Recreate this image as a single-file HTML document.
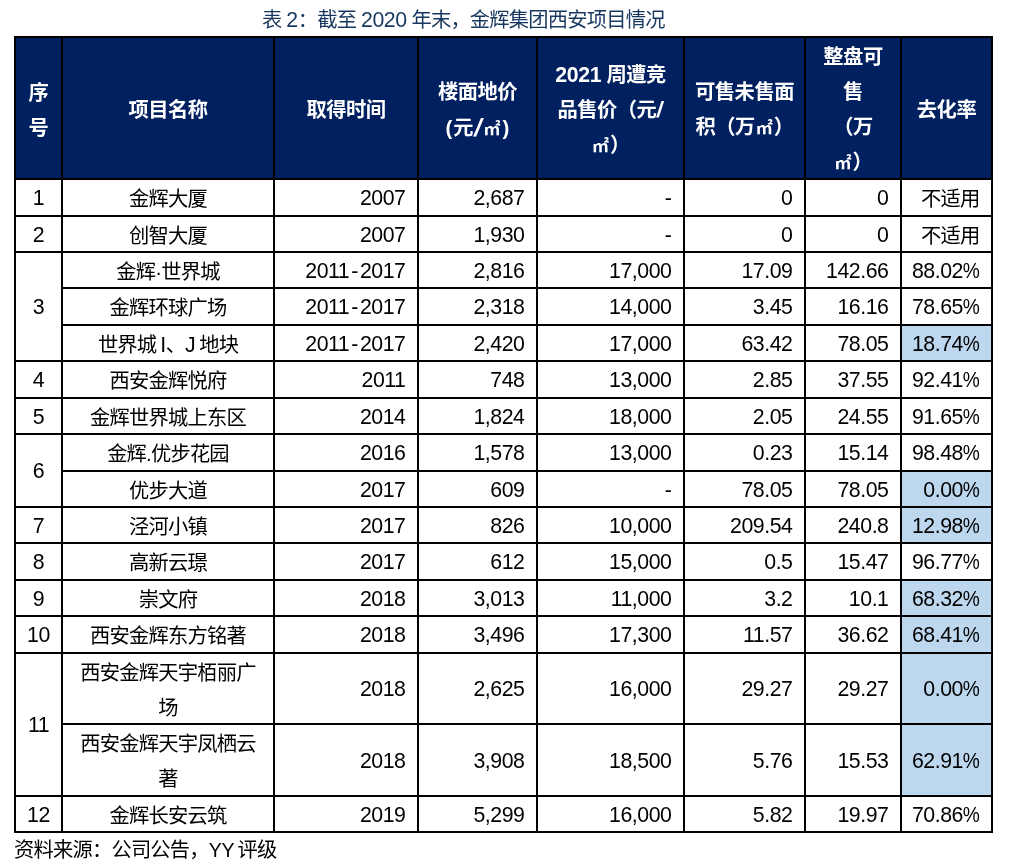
<!DOCTYPE html>
<html lang="zh-CN"><head><meta charset="utf-8"><title>表 2</title>
<style>
html,body{margin:0;padding:0;background:#fff;}
body{width:1012px;height:868px;position:relative;overflow:hidden;
 font-family:"Liberation Sans","Noto Sans CJK SC",sans-serif;font-size:20.3px;color:#000;letter-spacing:-0.8px;}
.c{position:absolute;display:flex;align-items:center;box-sizing:border-box;line-height:35px;white-space:nowrap;}
.ctr{justify-content:center;text-align:center;}
.r{justify-content:flex-end;text-align:right;padding-right:11.5px;}
.h{color:#fff;font-weight:bold;background:#002060;letter-spacing:-0.5px;}
.h .n{letter-spacing:-0.3px;}
.sl{display:inline-block;font-size:25px;line-height:20px;transform:skewX(-13deg);margin:0 1px 0 1.5px;letter-spacing:0;position:relative;top:1.5px;}
.sl2{display:inline-block;font-size:22px;line-height:20px;transform:skewX(-8deg);margin:0 0 0 1px;letter-spacing:0;position:relative;top:0.5px;}
.m2{font-weight:700;font-size:17px;letter-spacing:0;margin:0 1px;}
.p{font-size:20.5px;letter-spacing:0;margin:0 1px;}
.hl{background:#bdd7ee;}
.ln{position:absolute;background:#000;}
.t{position:relative;top:2px;}
.n .t{top:1px;}
.hy{margin:0 2px;}
.pc{display:inline-block;transform:scaleX(0.9);transform-origin:100% 50%;margin-left:-2px;}
.h .t{top:2.5px;}
.n{font-size:21.3px;letter-spacing:-0.45px;}
#title{position:absolute;left:262px;top:3px;line-height:35px;color:#17375e;white-space:nowrap;}
#src{position:absolute;left:14px;top:833px;line-height:35px;white-space:nowrap;}
</style></head><body>
<div id="title">表 <span class=n>2</span>：截至 <span class=n>2020</span> 年末，金辉集团西安项目情况</div>

<div class="c ctr h" style="left:16px;top:38px;width:45px;height:140px"><span class="t">序<br>号</span></div>
<div class="c ctr h" style="left:63px;top:38px;width:210px;height:140px"><span class="t">项目名称</span></div>
<div class="c ctr h" style="left:275px;top:38px;width:142px;height:140px"><span class="t">取得时间</span></div>
<div class="c ctr h" style="left:419px;top:38px;width:117px;height:140px"><span class="t">楼面地价<br><span class="p">(</span>元<span class="sl">/</span><span class="m2">㎡</span><span class="p">)</span></span></div>
<div class="c ctr h" style="left:538px;top:38px;width:145px;height:140px"><span class="t"><span class="n">2021</span> 周遭竞<br>品售价（元<span class="sl2">/</span><br><span class="m2">㎡</span>）</span></div>
<div class="c ctr h" style="left:685px;top:38px;width:119px;height:140px"><span class="t">可售未售面<br>积（万<span class="m2">㎡</span>）</span></div>
<div class="c ctr h" style="left:806px;top:38px;width:94px;height:140px"><span class="t">整盘可<br>售<br>（万<br><span class="m2">㎡</span>）</span></div>
<div class="c ctr h" style="left:902px;top:38px;width:89px;height:140px"><span class="t">去化率</span></div>
<div class="c ctr n" style="left:16px;top:180px;width:45px;height:35px"><span class="t">1</span></div>
<div class="c ctr" style="left:63px;top:180px;width:210px;height:35px"><span class="t">金辉大厦</span></div>
<div class="c r n" style="left:275px;top:180px;width:142px;height:35px"><span class="t">2007</span></div>
<div class="c r n" style="left:419px;top:180px;width:117px;height:35px"><span class="t">2,687</span></div>
<div class="c r n" style="left:538px;top:180px;width:145px;height:35px"><span class="t">-</span></div>
<div class="c r n" style="left:685px;top:180px;width:119px;height:35px"><span class="t">0</span></div>
<div class="c r n" style="left:806px;top:180px;width:94px;height:35px"><span class="t">0</span></div>
<div class="c r" style="left:902px;top:180px;width:89px;height:35px"><span class="t">不适用</span></div>
<div class="c ctr n" style="left:16px;top:217px;width:45px;height:34px"><span class="t">2</span></div>
<div class="c ctr" style="left:63px;top:217px;width:210px;height:34px"><span class="t">创智大厦</span></div>
<div class="c r n" style="left:275px;top:217px;width:142px;height:34px"><span class="t">2007</span></div>
<div class="c r n" style="left:419px;top:217px;width:117px;height:34px"><span class="t">1,930</span></div>
<div class="c r n" style="left:538px;top:217px;width:145px;height:34px"><span class="t">-</span></div>
<div class="c r n" style="left:685px;top:217px;width:119px;height:34px"><span class="t">0</span></div>
<div class="c r n" style="left:806px;top:217px;width:94px;height:34px"><span class="t">0</span></div>
<div class="c r" style="left:902px;top:217px;width:89px;height:34px"><span class="t">不适用</span></div>
<div class="c ctr n" style="left:16px;top:253px;width:45px;height:107px"><span class="t">3</span></div>
<div class="c ctr" style="left:63px;top:253px;width:210px;height:34px"><span class="t">金辉·世界城</span></div>
<div class="c r n" style="left:275px;top:253px;width:142px;height:34px"><span class="t">2011<span class=hy>-</span>2017</span></div>
<div class="c r n" style="left:419px;top:253px;width:117px;height:34px"><span class="t">2,816</span></div>
<div class="c r n" style="left:538px;top:253px;width:145px;height:34px"><span class="t">17,000</span></div>
<div class="c r n" style="left:685px;top:253px;width:119px;height:34px"><span class="t">17.09</span></div>
<div class="c r n" style="left:806px;top:253px;width:94px;height:34px"><span class="t">142.66</span></div>
<div class="c r n" style="left:902px;top:253px;width:89px;height:34px"><span class="t">88.02<span class="pc">%</span></span></div>
<div class="c ctr" style="left:63px;top:289px;width:210px;height:35px"><span class="t">金辉环球广场</span></div>
<div class="c r n" style="left:275px;top:289px;width:142px;height:35px"><span class="t">2011<span class=hy>-</span>2017</span></div>
<div class="c r n" style="left:419px;top:289px;width:117px;height:35px"><span class="t">2,318</span></div>
<div class="c r n" style="left:538px;top:289px;width:145px;height:35px"><span class="t">14,000</span></div>
<div class="c r n" style="left:685px;top:289px;width:119px;height:35px"><span class="t">3.45</span></div>
<div class="c r n" style="left:806px;top:289px;width:94px;height:35px"><span class="t">16.16</span></div>
<div class="c r n" style="left:902px;top:289px;width:89px;height:35px"><span class="t">78.65<span class="pc">%</span></span></div>
<div class="c ctr" style="left:63px;top:326px;width:210px;height:34px"><span class="t"><span style="word-spacing:-1px">世界城 <span class=n>I</span>、<span class=n>J</span> 地块</span></span></div>
<div class="c r n" style="left:275px;top:326px;width:142px;height:34px"><span class="t">2011<span class=hy>-</span>2017</span></div>
<div class="c r n" style="left:419px;top:326px;width:117px;height:34px"><span class="t">2,420</span></div>
<div class="c r n" style="left:538px;top:326px;width:145px;height:34px"><span class="t">17,000</span></div>
<div class="c r n" style="left:685px;top:326px;width:119px;height:34px"><span class="t">63.42</span></div>
<div class="c r n" style="left:806px;top:326px;width:94px;height:34px"><span class="t">78.05</span></div>
<div class="c r n hl" style="left:902px;top:326px;width:89px;height:34px"><span class="t">18.74<span class="pc">%</span></span></div>
<div class="c ctr n" style="left:16px;top:362px;width:45px;height:35px"><span class="t">4</span></div>
<div class="c ctr" style="left:63px;top:362px;width:210px;height:35px"><span class="t">西安金辉悦府</span></div>
<div class="c r n" style="left:275px;top:362px;width:142px;height:35px"><span class="t">2011</span></div>
<div class="c r n" style="left:419px;top:362px;width:117px;height:35px"><span class="t">748</span></div>
<div class="c r n" style="left:538px;top:362px;width:145px;height:35px"><span class="t">13,000</span></div>
<div class="c r n" style="left:685px;top:362px;width:119px;height:35px"><span class="t">2.85</span></div>
<div class="c r n" style="left:806px;top:362px;width:94px;height:35px"><span class="t">37.55</span></div>
<div class="c r n" style="left:902px;top:362px;width:89px;height:35px"><span class="t">92.41<span class="pc">%</span></span></div>
<div class="c ctr n" style="left:16px;top:399px;width:45px;height:34px"><span class="t">5</span></div>
<div class="c ctr" style="left:63px;top:399px;width:210px;height:34px"><span class="t">金辉世界城上东区</span></div>
<div class="c r n" style="left:275px;top:399px;width:142px;height:34px"><span class="t">2014</span></div>
<div class="c r n" style="left:419px;top:399px;width:117px;height:34px"><span class="t">1,824</span></div>
<div class="c r n" style="left:538px;top:399px;width:145px;height:34px"><span class="t">18,000</span></div>
<div class="c r n" style="left:685px;top:399px;width:119px;height:34px"><span class="t">2.05</span></div>
<div class="c r n" style="left:806px;top:399px;width:94px;height:34px"><span class="t">24.55</span></div>
<div class="c r n" style="left:902px;top:399px;width:89px;height:34px"><span class="t">91.65<span class="pc">%</span></span></div>
<div class="c ctr n" style="left:16px;top:435px;width:45px;height:71px"><span class="t">6</span></div>
<div class="c ctr" style="left:63px;top:435px;width:210px;height:35px"><span class="t">金辉.优步花园</span></div>
<div class="c r n" style="left:275px;top:435px;width:142px;height:35px"><span class="t">2016</span></div>
<div class="c r n" style="left:419px;top:435px;width:117px;height:35px"><span class="t">1,578</span></div>
<div class="c r n" style="left:538px;top:435px;width:145px;height:35px"><span class="t">13,000</span></div>
<div class="c r n" style="left:685px;top:435px;width:119px;height:35px"><span class="t">0.23</span></div>
<div class="c r n" style="left:806px;top:435px;width:94px;height:35px"><span class="t">15.14</span></div>
<div class="c r n" style="left:902px;top:435px;width:89px;height:35px"><span class="t">98.48<span class="pc">%</span></span></div>
<div class="c ctr" style="left:63px;top:472px;width:210px;height:34px"><span class="t">优步大道</span></div>
<div class="c r n" style="left:275px;top:472px;width:142px;height:34px"><span class="t">2017</span></div>
<div class="c r n" style="left:419px;top:472px;width:117px;height:34px"><span class="t">609</span></div>
<div class="c r n" style="left:538px;top:472px;width:145px;height:34px"><span class="t">-</span></div>
<div class="c r n" style="left:685px;top:472px;width:119px;height:34px"><span class="t">78.05</span></div>
<div class="c r n" style="left:806px;top:472px;width:94px;height:34px"><span class="t">78.05</span></div>
<div class="c r n hl" style="left:902px;top:472px;width:89px;height:34px"><span class="t">0.00<span class="pc">%</span></span></div>
<div class="c ctr n" style="left:16px;top:508px;width:45px;height:34px"><span class="t">7</span></div>
<div class="c ctr" style="left:63px;top:508px;width:210px;height:34px"><span class="t">泾河小镇</span></div>
<div class="c r n" style="left:275px;top:508px;width:142px;height:34px"><span class="t">2017</span></div>
<div class="c r n" style="left:419px;top:508px;width:117px;height:34px"><span class="t">826</span></div>
<div class="c r n" style="left:538px;top:508px;width:145px;height:34px"><span class="t">10,000</span></div>
<div class="c r n" style="left:685px;top:508px;width:119px;height:34px"><span class="t">209.54</span></div>
<div class="c r n" style="left:806px;top:508px;width:94px;height:34px"><span class="t">240.8</span></div>
<div class="c r n hl" style="left:902px;top:508px;width:89px;height:34px"><span class="t">12.98<span class="pc">%</span></span></div>
<div class="c ctr n" style="left:16px;top:544px;width:45px;height:35px"><span class="t">8</span></div>
<div class="c ctr" style="left:63px;top:544px;width:210px;height:35px"><span class="t">高新云璟</span></div>
<div class="c r n" style="left:275px;top:544px;width:142px;height:35px"><span class="t">2017</span></div>
<div class="c r n" style="left:419px;top:544px;width:117px;height:35px"><span class="t">612</span></div>
<div class="c r n" style="left:538px;top:544px;width:145px;height:35px"><span class="t">15,000</span></div>
<div class="c r n" style="left:685px;top:544px;width:119px;height:35px"><span class="t">0.5</span></div>
<div class="c r n" style="left:806px;top:544px;width:94px;height:35px"><span class="t">15.47</span></div>
<div class="c r n" style="left:902px;top:544px;width:89px;height:35px"><span class="t">96.77<span class="pc">%</span></span></div>
<div class="c ctr n" style="left:16px;top:581px;width:45px;height:34px"><span class="t">9</span></div>
<div class="c ctr" style="left:63px;top:581px;width:210px;height:34px"><span class="t">崇文府</span></div>
<div class="c r n" style="left:275px;top:581px;width:142px;height:34px"><span class="t">2018</span></div>
<div class="c r n" style="left:419px;top:581px;width:117px;height:34px"><span class="t">3,013</span></div>
<div class="c r n" style="left:538px;top:581px;width:145px;height:34px"><span class="t">11,000</span></div>
<div class="c r n" style="left:685px;top:581px;width:119px;height:34px"><span class="t">3.2</span></div>
<div class="c r n" style="left:806px;top:581px;width:94px;height:34px"><span class="t">10.1</span></div>
<div class="c r n hl" style="left:902px;top:581px;width:89px;height:34px"><span class="t">68.32<span class="pc">%</span></span></div>
<div class="c ctr n" style="left:16px;top:617px;width:45px;height:35px"><span class="t">10</span></div>
<div class="c ctr" style="left:63px;top:617px;width:210px;height:35px"><span class="t">西安金辉东方铭著</span></div>
<div class="c r n" style="left:275px;top:617px;width:142px;height:35px"><span class="t">2018</span></div>
<div class="c r n" style="left:419px;top:617px;width:117px;height:35px"><span class="t">3,496</span></div>
<div class="c r n" style="left:538px;top:617px;width:145px;height:35px"><span class="t">17,300</span></div>
<div class="c r n" style="left:685px;top:617px;width:119px;height:35px"><span class="t">11.57</span></div>
<div class="c r n" style="left:806px;top:617px;width:94px;height:35px"><span class="t">36.62</span></div>
<div class="c r n hl" style="left:902px;top:617px;width:89px;height:35px"><span class="t">68.41<span class="pc">%</span></span></div>
<div class="c ctr n" style="left:16px;top:654px;width:45px;height:141px"><span class="t">11</span></div>
<div class="c ctr" style="left:63px;top:654px;width:210px;height:69px"><span class="t">西安金辉天宇栢丽广<br>场</span></div>
<div class="c r n" style="left:275px;top:654px;width:142px;height:69px"><span class="t">2018</span></div>
<div class="c r n" style="left:419px;top:654px;width:117px;height:69px"><span class="t">2,625</span></div>
<div class="c r n" style="left:538px;top:654px;width:145px;height:69px"><span class="t">16,000</span></div>
<div class="c r n" style="left:685px;top:654px;width:119px;height:69px"><span class="t">29.27</span></div>
<div class="c r n" style="left:806px;top:654px;width:94px;height:69px"><span class="t">29.27</span></div>
<div class="c r n hl" style="left:902px;top:654px;width:89px;height:69px"><span class="t">0.00<span class="pc">%</span></span></div>
<div class="c ctr" style="left:63px;top:725px;width:210px;height:70px"><span class="t">西安金辉天宇凤栖云<br>著</span></div>
<div class="c r n" style="left:275px;top:725px;width:142px;height:70px"><span class="t">2018</span></div>
<div class="c r n" style="left:419px;top:725px;width:117px;height:70px"><span class="t">3,908</span></div>
<div class="c r n" style="left:538px;top:725px;width:145px;height:70px"><span class="t">18,500</span></div>
<div class="c r n" style="left:685px;top:725px;width:119px;height:70px"><span class="t">5.76</span></div>
<div class="c r n" style="left:806px;top:725px;width:94px;height:70px"><span class="t">15.53</span></div>
<div class="c r n hl" style="left:902px;top:725px;width:89px;height:70px"><span class="t">62.91<span class="pc">%</span></span></div>
<div class="c ctr n" style="left:16px;top:797px;width:45px;height:34px"><span class="t">12</span></div>
<div class="c ctr" style="left:63px;top:797px;width:210px;height:34px"><span class="t">金辉长安云筑</span></div>
<div class="c r n" style="left:275px;top:797px;width:142px;height:34px"><span class="t">2019</span></div>
<div class="c r n" style="left:419px;top:797px;width:117px;height:34px"><span class="t">5,299</span></div>
<div class="c r n" style="left:538px;top:797px;width:145px;height:34px"><span class="t">16,000</span></div>
<div class="c r n" style="left:685px;top:797px;width:119px;height:34px"><span class="t">5.82</span></div>
<div class="c r n" style="left:806px;top:797px;width:94px;height:34px"><span class="t">19.97</span></div>
<div class="c r n" style="left:902px;top:797px;width:89px;height:34px"><span class="t">70.86<span class="pc">%</span></span></div>
<div class="ln" style="left:14px;top:36px;width:2px;height:797px"></div>
<div class="ln" style="left:61px;top:36px;width:2px;height:797px"></div>
<div class="ln" style="left:273px;top:36px;width:2px;height:797px"></div>
<div class="ln" style="left:417px;top:36px;width:2px;height:797px"></div>
<div class="ln" style="left:536px;top:36px;width:2px;height:797px"></div>
<div class="ln" style="left:683px;top:36px;width:2px;height:797px"></div>
<div class="ln" style="left:804px;top:36px;width:2px;height:797px"></div>
<div class="ln" style="left:900px;top:36px;width:2px;height:797px"></div>
<div class="ln" style="left:991px;top:36px;width:2px;height:797px"></div>
<div class="ln" style="left:14px;top:36px;width:979px;height:2px"></div>
<div class="ln" style="left:14px;top:178px;width:979px;height:2px"></div>
<div class="ln" style="left:14px;top:215px;width:979px;height:2px"></div>
<div class="ln" style="left:14px;top:251px;width:979px;height:2px"></div>
<div class="ln" style="left:61px;top:287px;width:932px;height:2px"></div>
<div class="ln" style="left:61px;top:324px;width:932px;height:2px"></div>
<div class="ln" style="left:14px;top:360px;width:979px;height:2px"></div>
<div class="ln" style="left:14px;top:397px;width:979px;height:2px"></div>
<div class="ln" style="left:14px;top:433px;width:979px;height:2px"></div>
<div class="ln" style="left:61px;top:470px;width:932px;height:2px"></div>
<div class="ln" style="left:14px;top:506px;width:979px;height:2px"></div>
<div class="ln" style="left:14px;top:542px;width:979px;height:2px"></div>
<div class="ln" style="left:14px;top:579px;width:979px;height:2px"></div>
<div class="ln" style="left:14px;top:615px;width:979px;height:2px"></div>
<div class="ln" style="left:14px;top:652px;width:979px;height:2px"></div>
<div class="ln" style="left:61px;top:723px;width:932px;height:2px"></div>
<div class="ln" style="left:14px;top:795px;width:979px;height:2px"></div>
<div class="ln" style="left:14px;top:831px;width:979px;height:2px"></div>
<div id="src">资料来源：公司公告，<span class="n" style="font-size:19.5px;word-spacing:-1px">YY </span>评级</div>
</body></html>
